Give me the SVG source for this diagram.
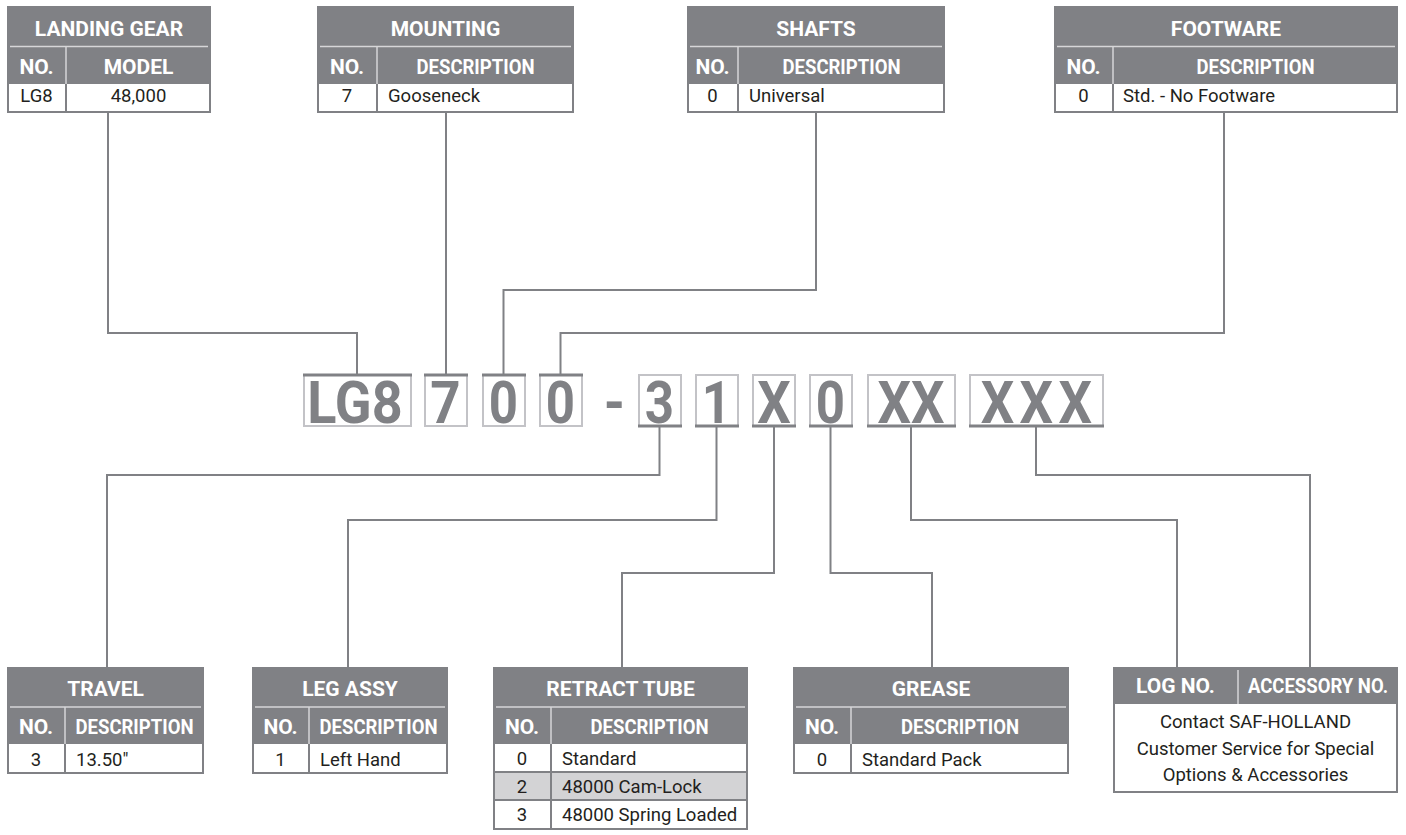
<svg xmlns="http://www.w3.org/2000/svg" width="1406" height="835" viewBox="0 0 1406 835">
<style>
.bg{fill:#fff}
.hdr{fill:#808185}
.wr{fill:#fff}
.gr{fill:#d3d3d5}
.sep{stroke:#d6d6d8;stroke-width:1.5}
.gl{stroke:#808185;stroke-width:2}
.ht{font-family:Roboto,"Open Sans",sans-serif;font-weight:700;font-size:21px;fill:#fff;text-anchor:middle}
.dt{font-family:Roboto,"Open Sans",sans-serif;font-size:18.5px;fill:#231f20}
.c{text-anchor:middle}
.conn path{fill:none;stroke:#808185;stroke-width:2}
.cbox{fill:#fff;stroke:#c3c3c7;stroke-width:2}
.edge{stroke:#808185;stroke-width:3}
.code{font-family:Roboto,"Open Sans",sans-serif;font-weight:700;font-size:60px;fill:#808185;text-anchor:middle}
</style>
<rect class="bg" x="0" y="0" width="1406" height="835"/>

<g id="connectors" class="conn">
<path d="M108,113 V333 H357 V374"/>
<path d="M446,113 V374"/>
<path d="M816,113 V290 H503.5 V374"/>
<path d="M1224,113 V333 H560.5 V374"/>
<path d="M659.5,426 V475 H107 V667"/>
<path d="M716.5,426 V520 H348 V667"/>
<path d="M774,426 V573 H622 V667"/>
<path d="M830.5,426 V573 H932 V667"/>
<path d="M911,426 V520 H1177 V667"/>
<path d="M1036,426 V475 H1310 V667"/>
</g>

<!-- Top tables -->
<g id="landing-gear">
<rect class="hdr" x="7" y="6" width="204" height="107"/>
<rect class="wr" x="9" y="84" width="200" height="27"/>
<line class="sep" x1="10" y1="46.5" x2="208" y2="46.5"/>
<line class="sep" x1="66" y1="46.5" x2="66" y2="84"/>
<line class="gl" x1="66" y1="84" x2="66" y2="111"/>
<text class="ht" x="109" y="36">LANDING GEAR</text>
<text class="ht" x="36.5" y="74">NO.</text>
<text class="ht" x="138.5" y="74">MODEL</text>
<text class="dt c" x="36.5" y="102">LG8</text>
<text class="dt c" x="138.5" y="102">48,000</text>
</g>

<g id="mounting">
<rect class="hdr" x="317" y="6" width="257" height="107"/>
<rect class="wr" x="319" y="84" width="253" height="27"/>
<line class="sep" x1="320" y1="46.5" x2="571" y2="46.5"/>
<line class="sep" x1="377" y1="46.5" x2="377" y2="84"/>
<line class="gl" x1="377" y1="84" x2="377" y2="111"/>
<text class="ht" x="445.5" y="36">MOUNTING</text>
<text class="ht" x="347" y="74">NO.</text>
<text class="ht" x="475.5" y="74" textLength="118" lengthAdjust="spacingAndGlyphs">DESCRIPTION</text>
<text class="dt c" x="347" y="102">7</text>
<text class="dt" x="388" y="102">Gooseneck</text>
</g>

<g id="shafts">
<rect class="hdr" x="687" y="6" width="258" height="107"/>
<rect class="wr" x="689" y="84" width="254" height="27"/>
<line class="sep" x1="690" y1="46.5" x2="942" y2="46.5"/>
<line class="sep" x1="738" y1="46.5" x2="738" y2="84"/>
<line class="gl" x1="738" y1="84" x2="738" y2="111"/>
<text class="ht" x="816" y="36">SHAFTS</text>
<text class="ht" x="712.5" y="74">NO.</text>
<text class="ht" x="841.5" y="74" textLength="118" lengthAdjust="spacingAndGlyphs">DESCRIPTION</text>
<text class="dt c" x="712.5" y="102">0</text>
<text class="dt" x="749" y="102">Universal</text>
</g>

<g id="footware">
<rect class="hdr" x="1054" y="6" width="344" height="107"/>
<rect class="wr" x="1056" y="84" width="340" height="27"/>
<line class="sep" x1="1057" y1="46.5" x2="1395" y2="46.5"/>
<line class="sep" x1="1113" y1="46.5" x2="1113" y2="84"/>
<line class="gl" x1="1113" y1="84" x2="1113" y2="111"/>
<text class="ht" x="1226" y="36">FOOTWARE</text>
<text class="ht" x="1083.5" y="74">NO.</text>
<text class="ht" x="1255.5" y="74" textLength="118" lengthAdjust="spacingAndGlyphs">DESCRIPTION</text>
<text class="dt c" x="1083.5" y="102">0</text>
<text class="dt" x="1123" y="102">Std. - No Footware</text>
</g>

<!-- Code -->
<g id="code-lg8">
<rect class="cbox" x="304" y="375" width="107" height="51"/>
<line class="edge" x1="303" y1="375" x2="412" y2="375"/>
<text class="code" transform="translate(355,423) scale(0.9,1)">LG8</text>
</g>
<g id="code-7">
<rect class="cbox" x="425" y="375" width="42" height="51"/>
<line class="edge" x1="424" y1="375" x2="468" y2="375"/>
<text class="code" transform="translate(445.5,423) scale(0.88,1)">7</text>
</g>
<g id="code-0a">
<rect class="cbox" x="483" y="375" width="42" height="51"/>
<line class="edge" x1="482" y1="375" x2="526" y2="375"/>
<text class="code" transform="translate(503.5,423) scale(0.85,1)">0</text>
</g>
<g id="code-0b">
<rect class="cbox" x="540" y="375" width="42" height="51"/>
<line class="edge" x1="539" y1="375" x2="583" y2="375"/>
<text class="code" transform="translate(560.5,423) scale(0.85,1)">0</text>
</g>
<g id="code-dash">
<text class="code" transform="translate(614.5,423) scale(0.9,1)">-</text>
</g>
<g id="code-3">
<rect class="cbox" x="639" y="375" width="42" height="51"/>
<line class="edge" x1="638" y1="426" x2="682" y2="426"/>
<text class="code" transform="translate(659.5,423) scale(0.85,1)">3</text>
</g>
<g id="code-1">
<rect class="cbox" x="696" y="375" width="42" height="51"/>
<line class="edge" x1="695" y1="426" x2="739" y2="426"/>
<text class="code" transform="translate(716.5,423) scale(0.85,1)">1</text>
</g>
<g id="code-x">
<rect class="cbox" x="753" y="375" width="42" height="51"/>
<line class="edge" x1="752" y1="426" x2="796" y2="426"/>
<text class="code" transform="translate(774,423) scale(0.88,1)">X</text>
</g>
<g id="code-0c">
<rect class="cbox" x="810" y="375" width="42" height="51"/>
<line class="edge" x1="809" y1="426" x2="853" y2="426"/>
<text class="code" transform="translate(830.5,423) scale(0.85,1)">0</text>
</g>
<g id="code-xx">
<rect class="cbox" x="868" y="375" width="87" height="51"/>
<line class="edge" x1="867" y1="426" x2="956" y2="426"/>
<text class="code" transform="translate(911,423) scale(0.88,1)">XX</text>
</g>
<g id="code-xxx">
<rect class="cbox" x="970" y="375" width="133" height="51"/>
<line class="edge" x1="969" y1="426" x2="1104" y2="426"/>
<text class="code" letter-spacing="6" transform="translate(1039,423) scale(0.88,1)">XXX</text>
</g>

<!-- Bottom tables -->
<g id="travel">
<rect class="hdr" x="7" y="667" width="197" height="107"/>
<rect class="wr" x="9" y="744" width="193" height="28"/>
<line class="sep" x1="10" y1="707" x2="201" y2="707"/>
<line class="sep" x1="65" y1="707" x2="65" y2="744"/>
<line class="gl" x1="65" y1="744" x2="65" y2="772"/>
<text class="ht" x="105.5" y="696">TRAVEL</text>
<text class="ht" x="36" y="734">NO.</text>
<text class="ht" x="134.5" y="734" textLength="118" lengthAdjust="spacingAndGlyphs">DESCRIPTION</text>
<text class="dt c" x="36" y="766">3</text>
<text class="dt" x="76" y="766">13.50″</text>
</g>

<g id="leg-assy">
<rect class="hdr" x="252" y="667" width="196" height="107"/>
<rect class="wr" x="254" y="744" width="192" height="28"/>
<line class="sep" x1="255" y1="707" x2="445" y2="707"/>
<line class="sep" x1="309" y1="707" x2="309" y2="744"/>
<line class="gl" x1="309" y1="744" x2="309" y2="772"/>
<text class="ht" x="350" y="696">LEG ASSY</text>
<text class="ht" x="280.5" y="734">NO.</text>
<text class="ht" x="378.5" y="734" textLength="118" lengthAdjust="spacingAndGlyphs">DESCRIPTION</text>
<text class="dt c" x="280.5" y="766">1</text>
<text class="dt" x="320" y="766">Left Hand</text>
</g>

<g id="retract-tube">
<rect class="hdr" x="493" y="667" width="255" height="163"/>
<rect class="wr" x="495" y="744" width="251" height="27"/>
<rect class="gr" x="495" y="773" width="251" height="26"/>
<rect class="wr" x="495" y="801" width="251" height="27"/>
<line class="sep" x1="496" y1="707" x2="745" y2="707"/>
<line class="sep" x1="551" y1="707" x2="551" y2="744"/>
<line class="gl" x1="551" y1="744" x2="551" y2="828"/>
<text class="ht" x="620.5" y="696">RETRACT TUBE</text>
<text class="ht" x="522" y="734">NO.</text>
<text class="ht" x="649.5" y="734" textLength="118" lengthAdjust="spacingAndGlyphs">DESCRIPTION</text>
<text class="dt c" x="522" y="765">0</text>
<text class="dt" x="562" y="765">Standard</text>
<text class="dt c" x="522" y="793">2</text>
<text class="dt" x="562" y="793">48000 Cam-Lock</text>
<text class="dt c" x="522" y="821">3</text>
<text class="dt" x="562" y="821">48000 Spring Loaded</text>
</g>

<g id="grease">
<rect class="hdr" x="793" y="667" width="276" height="107"/>
<rect class="wr" x="795" y="744" width="272" height="28"/>
<line class="sep" x1="796" y1="707" x2="1066" y2="707"/>
<line class="sep" x1="851" y1="707" x2="851" y2="744"/>
<line class="gl" x1="851" y1="744" x2="851" y2="772"/>
<text class="ht" x="931" y="696">GREASE</text>
<text class="ht" x="822" y="734">NO.</text>
<text class="ht" x="960" y="734" textLength="118" lengthAdjust="spacingAndGlyphs">DESCRIPTION</text>
<text class="dt c" x="822" y="766">0</text>
<text class="dt" x="862" y="766">Standard Pack</text>
</g>

<g id="log-accessory">
<rect class="hdr" x="1113" y="667" width="285" height="126"/>
<rect class="wr" x="1115" y="704" width="281" height="87"/>
<line class="sep" x1="1238" y1="670" x2="1238" y2="704"/>
<text class="ht" x="1175.5" y="693">LOG NO.</text>
<text class="ht" x="1318" y="693" textLength="140" lengthAdjust="spacingAndGlyphs">ACCESSORY NO.</text>
<text class="dt c" x="1255.5" y="728">Contact SAF-HOLLAND</text>
<text class="dt c" x="1255.5" y="755">Customer Service for Special</text>
<text class="dt c" x="1255.5" y="781">Options &amp; Accessories</text>
</g>
</svg>
